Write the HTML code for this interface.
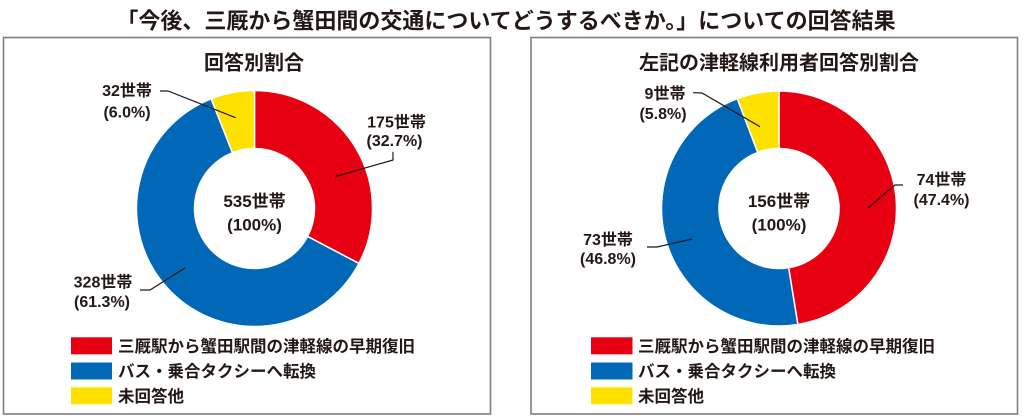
<!DOCTYPE html>
<html>
<head>
<meta charset="utf-8">
<style>
html,body{margin:0;padding:0;background:#fff;}
svg{display:block;}
text{font-family:"Liberation Sans","Noto Sans CJK JP",sans-serif;font-weight:bold;fill:#231815;}
</style>
</head>
<body>
<svg width="1024" height="420" viewBox="0 0 1024 420" xmlns="http://www.w3.org/2000/svg">
  <rect width="1024" height="420" fill="#fff"/>
  <text x="506" y="28.5" font-size="22" text-anchor="middle">「今後、三厩から蟹田間の交通についてどうするべきか。」についての回答結果</text>

  <!-- Panels -->
  <rect x="3.5" y="37.5" width="487" height="376.5" fill="none" stroke="#7f7f7f" stroke-width="1.6"/>
  <rect x="531" y="37.5" width="486.5" height="376.5" fill="none" stroke="#7f7f7f" stroke-width="1.6"/>

  <!-- Left panel -->
  <text x="254" y="69.6" font-size="20" text-anchor="middle">回答別割合</text>
  <g stroke="#fff" stroke-width="1.5">
    <path d="M254.5,90.5 A118,118 0 0 1 358.92,263.46 L307.59,236.45 A60,60 0 0 0 254.5,148.5 Z" fill="#E60012"/>
    <path d="M358.92,263.46 A118,118 0 1 1 211.19,98.74 L232.48,152.69 A60,60 0 1 0 307.59,236.45 Z" fill="#0068B7"/>
    <path d="M211.19,98.74 A118,118 0 0 1 254.5,90.5 L254.5,148.5 A60,60 0 0 0 232.48,152.69 Z" fill="#FFE100"/>
  </g>
  <text x="254.5" y="207" font-size="17" text-anchor="middle">535世帯</text>
  <text x="254.5" y="230.5" font-size="17" text-anchor="middle">(100%)</text>

  <g fill="none" stroke="#231815" stroke-width="1.2">
    <polyline points="160,91 168,91 235.7,117.7"/>
    <polyline points="393,151.7 393,160 335,176.7"/>
    <polyline points="140,290 150,290 185,268"/>
  </g>
  <text x="127" y="96" font-size="16" text-anchor="middle">32世帯</text>
  <text x="127" y="117.7" font-size="16" text-anchor="middle">(6.0%)</text>
  <text x="396.5" y="127.7" font-size="16" text-anchor="middle">175世帯</text>
  <text x="394.5" y="146" font-size="16" text-anchor="middle">(32.7%)</text>
  <text x="103" y="287.7" font-size="16" text-anchor="middle">328世帯</text>
  <text x="102" y="307" font-size="16" text-anchor="middle">(61.3%)</text>

  <rect x="71" y="337.3" width="41" height="17" fill="#E60012"/>
  <rect x="71" y="362.5" width="41" height="17" fill="#0068B7"/>
  <rect x="71" y="387.3" width="41" height="17" fill="#FFE100"/>
  <text x="118" y="352" font-size="16.5">三厩駅から蟹田駅間の津軽線の早期復旧</text>
  <text x="118" y="377.2" font-size="16.5">バス・乗合タクシーへ転換</text>
  <text x="118" y="402" font-size="16.5">未回答他</text>

  <!-- Right panel -->
  <text x="779" y="69.6" font-size="20" text-anchor="middle">左記の津軽線利用者回答別割合</text>
  <g stroke="#fff" stroke-width="1.5">
    <path d="M779,91 A117.5,117.5 0 0 1 797.85,324.48 L788.62,267.73 A60,60 0 0 0 779,148.5 Z" fill="#E60012"/>
    <path d="M797.85,324.48 A117.5,117.5 0 0 1 737.33,98.64 L757.72,152.4 A60,60 0 0 0 788.62,267.73 Z" fill="#0068B7"/>
    <path d="M737.33,98.64 A117.5,117.5 0 0 1 779,91 L779,148.5 A60,60 0 0 0 757.72,152.4 Z" fill="#FFE100"/>
  </g>
  <text x="779" y="207" font-size="17" text-anchor="middle">156世帯</text>
  <text x="779" y="230.5" font-size="17" text-anchor="middle">(100%)</text>

  <g fill="none" stroke="#231815" stroke-width="1.2">
    <polyline points="693,92.7 702,93 760,126.7"/>
    <polyline points="903,185 895,185 868,208"/>
    <polyline points="647,247 657,247 692,239"/>
  </g>
  <text x="665" y="99" font-size="16" text-anchor="middle">9世帯</text>
  <text x="663" y="119" font-size="16" text-anchor="middle">(5.8%)</text>
  <text x="941.5" y="185" font-size="16" text-anchor="middle">74世帯</text>
  <text x="941.5" y="205" font-size="16" text-anchor="middle">(47.4%)</text>
  <text x="608" y="245" font-size="16" text-anchor="middle">73世帯</text>
  <text x="608" y="264" font-size="16" text-anchor="middle">(46.8%)</text>

  <rect x="591" y="337.3" width="41.5" height="17" fill="#E60012"/>
  <rect x="591" y="362.5" width="41.5" height="17" fill="#0068B7"/>
  <rect x="591" y="387.3" width="41.5" height="17" fill="#FFE100"/>
  <text x="638" y="352" font-size="16.5">三厩駅から蟹田駅間の津軽線の早期復旧</text>
  <text x="638" y="377.2" font-size="16.5">バス・乗合タクシーへ転換</text>
  <text x="638" y="402" font-size="16.5">未回答他</text>
</svg>
</body>
</html>
